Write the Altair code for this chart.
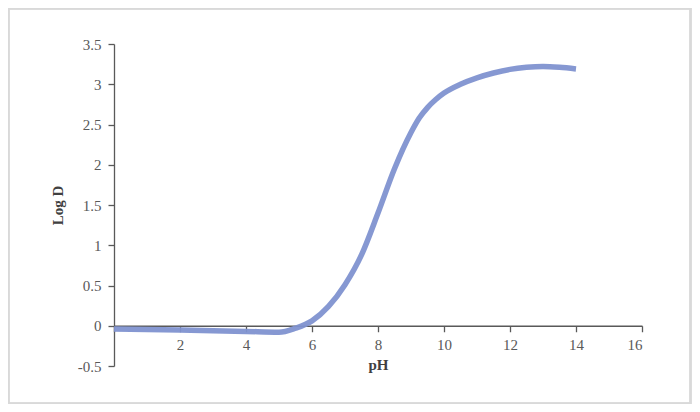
import altair as alt
import pandas as pd

ph = [0, 1, 2, 3, 4, 5, 5.5, 6, 6.5, 7, 7.5, 8, 8.5, 9, 9.25, 9.5, 9.75, 10, 10.5, 11, 11.5, 12, 12.5, 13, 13.5, 14]
logd = [-0.04, -0.047, -0.054, -0.061, -0.07, -0.08, -0.03, 0.06, 0.24, 0.51, 0.88, 1.4, 1.95, 2.4, 2.58, 2.71, 2.81, 2.89, 3.0, 3.08, 3.14, 3.185, 3.21, 3.22, 3.21, 3.19]
x_ticks = [0, 2, 4, 6, 8, 10, 12, 14, 16]
y_ticks = [-0.5, 0, 0.5, 1, 1.5, 2, 2.5, 3, 3.5]

df = pd.DataFrame({"pH": ph, "LogD": logd})

FONT = "Liberation Serif"
W, H = 528, 322

line = alt.Chart(df).mark_line(
    color="#7F92D0", strokeWidth=5.5, interpolate="monotone", opacity=0.95
).encode(
    x=alt.X("pH:Q", scale=alt.Scale(domain=[0, 16], nice=False),
            axis=alt.Axis(values=x_ticks, title="pH", grid=False,
                          offset=-(H * 0.5 / 4),
                          labelExpr="datum.value == 0 ? '' : datum.label",
                          labelPadding=6, titlePadding=5)),
    y=alt.Y("LogD:Q", scale=alt.Scale(domain=[-0.5, 3.5], nice=False, zero=False),
            axis=alt.Axis(values=y_ticks, title="Log D", grid=False,
                          labelExpr="datum.value < 0 ? '-' + format(-datum.value, '~g') : format(datum.value, '~g')",
                          titlePadding=12, labelPadding=7)),
)

frame = alt.Chart(df).mark_rect(fill=None, stroke="#d9d9d9", strokeWidth=1.5).encode(
    x=alt.value(-105.5), x2=alt.value(576.5), y=alt.value(-35.5), y2=alt.value(359.5)
)

chart = alt.layer(frame, line).properties(
    width=W, height=H,
    autosize=alt.AutoSizeParams(type="none"),
    padding={"left": 106, "top": 36, "right": 50, "bottom": 38},
).configure_view(stroke=None).configure_axis(
    labelFont=FONT, titleFont=FONT, labelFontSize=15, titleFontSize=15,
    labelColor="#595959", titleColor="#404040", titleFontWeight="bold",
    domainColor="#595959", tickColor="#595959", tickSize=6, domainWidth=1.3, tickWidth=1.3,
)

chart.save("out.html", embed_options={"renderer": "svg", "actions": False})
